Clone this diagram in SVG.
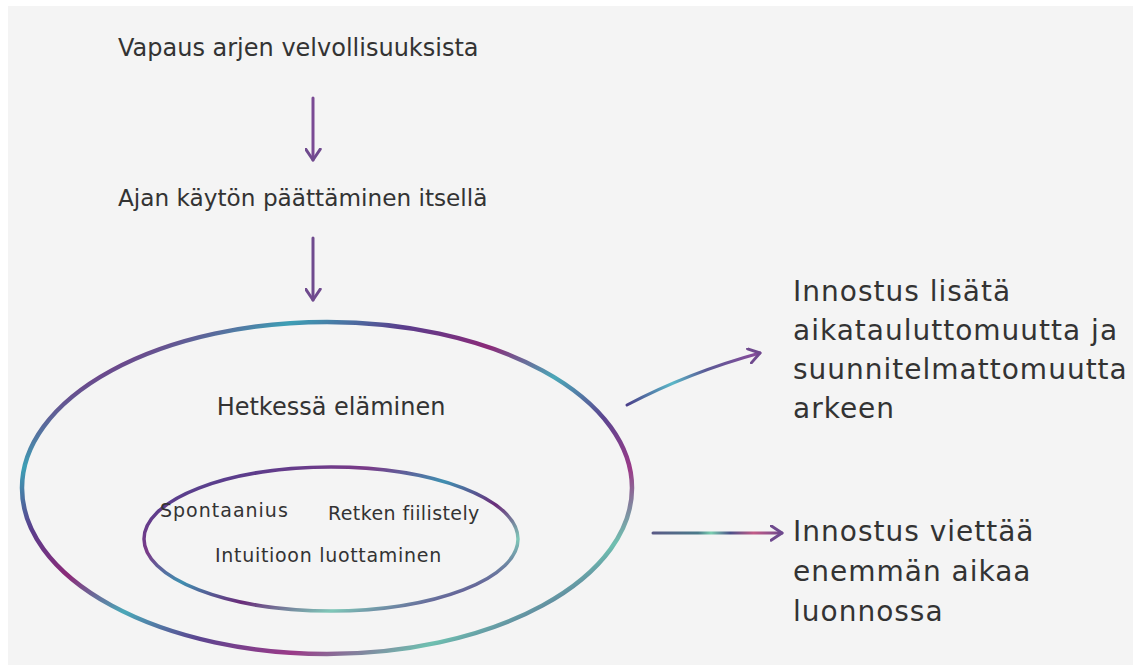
<svg xmlns="http://www.w3.org/2000/svg" width="1146" height="670" viewBox="0 0 1146 670">
  <style>
    .t { font-family: "DejaVu Sans", "Liberation Sans", sans-serif; fill: #333333; }
    .big { font-size: 24px; }
    .mid { font-size: 24px; }
    .sm { font-size: 19px; letter-spacing: 0.7px; }
    .side { font-size: 28px; letter-spacing: 1px; }
    .conn { fill: none; stroke-width: 3; stroke-linecap: round; }
  </style>
  <defs>
    <marker id="ah" viewBox="0 0 12 14" refX="10" refY="7" markerWidth="15" markerHeight="17" markerUnits="userSpaceOnUse" orient="auto">
      <path d="M1,1 L10,7 L1,13" fill="none" stroke="#6f4a8e" stroke-width="2.4" stroke-linecap="round" stroke-linejoin="round"/>
    </marker>
    <linearGradient id="ringOuter" x1="0" y1="0" x2="1" y2="1">
      <stop offset="0" stop-color="#4a3a8a"/>
      <stop offset="0.12" stop-color="#7a2c7e"/>
      <stop offset="0.22" stop-color="#3d9fb5"/>
      <stop offset="0.32" stop-color="#5a3d8c"/>
      <stop offset="0.42" stop-color="#8b2a78"/>
      <stop offset="0.52" stop-color="#4aa8b8"/>
      <stop offset="0.62" stop-color="#5b4590"/>
      <stop offset="0.72" stop-color="#9a3a88"/>
      <stop offset="0.82" stop-color="#6fc0b0"/>
      <stop offset="0.92" stop-color="#4b3a86"/>
      <stop offset="1" stop-color="#7a2c7e"/>
    </linearGradient>
    <linearGradient id="ringInner" x1="0" y1="0" x2="1" y2="1">
      <stop offset="0" stop-color="#6fbfb0"/>
      <stop offset="0.15" stop-color="#5a3d8c"/>
      <stop offset="0.3" stop-color="#7a3a88"/>
      <stop offset="0.45" stop-color="#3f8fb0"/>
      <stop offset="0.6" stop-color="#6a2c7a"/>
      <stop offset="0.75" stop-color="#7fc8b8"/>
      <stop offset="0.9" stop-color="#5a3d8c"/>
      <stop offset="1" stop-color="#8a2c7e"/>
    </linearGradient>
    <linearGradient id="g3" gradientUnits="userSpaceOnUse" x1="627" y1="405" x2="760" y2="352">
      <stop offset="0" stop-color="#4b3f8a"/>
      <stop offset="0.35" stop-color="#5ab8c8"/>
      <stop offset="0.6" stop-color="#5a5a96"/>
      <stop offset="1" stop-color="#8a4a9a"/>
    </linearGradient>
    <linearGradient id="g4" gradientUnits="userSpaceOnUse" x1="653" y1="533" x2="782" y2="533">
      <stop offset="0" stop-color="#5a5a86"/>
      <stop offset="0.35" stop-color="#4a7a8a"/>
      <stop offset="0.45" stop-color="#7acfb0"/>
      <stop offset="0.6" stop-color="#4b5088"/>
      <stop offset="0.78" stop-color="#c25a86"/>
      <stop offset="1" stop-color="#6f4a8e"/>
    </linearGradient>
  </defs>

  <rect x="0" y="0" width="1146" height="670" fill="#ffffff"/>
  <rect x="8" y="6" width="1125" height="659" fill="#f4f4f4"/>

  <g id="connectors">
    <path class="conn" d="M313,98 L313,160" stroke="#7a4a94" marker-end="url(#ah)"/>
    <path class="conn" d="M313,238 L313,300" stroke="#6f4a8e" marker-end="url(#ah)"/>
    <path class="conn" d="M627,405 Q690,372 760,353" stroke="url(#g3)" marker-end="url(#ah)"/>
    <path class="conn" d="M653,533 L782,533" stroke="url(#g4)" marker-end="url(#ah)"/>
  </g>

  <g id="node-vapaus">
    <text class="t big" x="118" y="56">Vapaus arjen velvollisuuksista</text>
  </g>

  <g id="node-ajan">
    <text class="t big" x="118" y="206" style="font-size:23.2px">Ajan käytön päättäminen itsellä</text>
  </g>

  <g id="node-hetkessa">
    <ellipse cx="327" cy="488" rx="305" ry="166" fill="none" stroke="url(#ringOuter)" stroke-width="4.5"/>
    <text class="t mid" x="331" y="415" text-anchor="middle">Hetkessä eläminen</text>
  </g>

  <g id="node-inner">
    <ellipse cx="331" cy="539" rx="187" ry="72" fill="none" stroke="url(#ringInner)" stroke-width="3.5"/>
    <text class="t sm" x="160" y="517" style="letter-spacing:1px">Spontaanius</text>
    <text class="t sm" x="328" y="520" style="letter-spacing:0.4px">Retken fiilistely</text>
    <text class="t sm" x="215" y="562">Intuitioon luottaminen</text>
  </g>

  <g id="node-innostus1">
    <text class="t side" x="793" y="301">Innostus lisätä</text>
    <text class="t side" x="793" y="340">aikatauluttomuutta ja</text>
    <text class="t side" x="793" y="379">suunnitelmattomuutta</text>
    <text class="t side" x="793" y="418">arkeen</text>
  </g>

  <g id="node-innostus2">
    <text class="t side" x="793" y="541">Innostus viettää</text>
    <text class="t side" x="793" y="581">enemmän aikaa</text>
    <text class="t side" x="793" y="621">luonnossa</text>
  </g>
</svg>
